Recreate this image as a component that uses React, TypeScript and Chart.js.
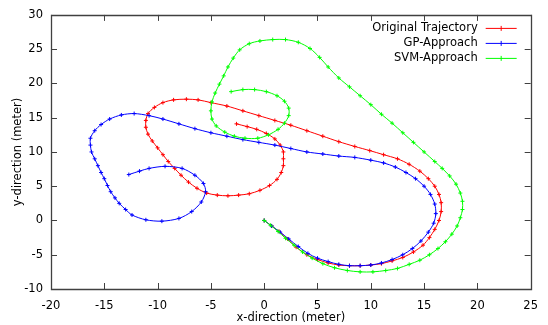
import React, { useEffect, useRef } from "react";
import { Chart, registerables } from "chart.js";

Chart.register(...registerables);

const seriesNames = ["Original Trajectory", "GP-Approach", "SVM-Approach"];
const seriesColors = ["#ff0000", "#0000ff", "#00ff00"];

const xTicks = [-20, -15, -10, -5, 0, 5, 10, 15, 20, 25];
const yTicks = [-10, -5, 0, 5, 10, 15, 20, 25, 30];

const origX = [0, 0.7, 1.4, 2.2, 3.0, 4.0, 5.0, 6.0, 7.0, 8.0, 9.0, 10.0, 11.0, 12.0, 13.0, 14.0, 14.9, 15.5, 16.0, 16.4, 16.6, 16.6, 16.4, 16.0, 15.4, 14.6, 13.6, 12.5, 11.2, 9.9, 8.5, 7.0, 5.5, 4.0, 2.5, 1.0, -0.5, -2.0, -3.5, -5.0, -6.2, -7.3, -8.5, -9.5, -10.3, -10.9, -11.1, -11.1, -10.9, -10.5, -10.0, -9.5, -9.0, -8.4, -7.8, -7.1, -6.3, -5.4, -4.4, -3.4, -2.4, -1.4, -0.4, 0.5, 1.2, 1.6, 1.8, 1.8, 1.8, 1.5, 1.0, 0.2, -0.7, -1.6, -2.6];
const origY = [0, -0.8, -1.6, -2.7, -3.9, -5.0, -5.7, -6.2, -6.5, -6.6, -6.6, -6.5, -6.3, -5.9, -5.4, -4.6, -3.6, -2.5, -1.3, 0, 1.3, 2.6, 3.8, 5.0, 6.1, 7.2, 8.2, 9.0, 9.6, 10.2, 10.8, 11.5, 12.3, 13.1, 13.9, 14.6, 15.3, 16.0, 16.7, 17.2, 17.6, 17.7, 17.6, 17.2, 16.5, 15.6, 14.6, 13.6, 12.6, 11.6, 10.6, 9.6, 8.6, 7.6, 6.6, 5.6, 4.7, 4.0, 3.7, 3.6, 3.7, 3.9, 4.4, 5.1, 6.0, 7.0, 8.0, 9.0, 10.0, 11.0, 11.9, 12.7, 13.3, 13.7, 14.1];

const gpX = [0, 0.7, 1.5, 2.3, 3.2, 4.1, 5.0, 6.0, 7.0, 8.0, 9.0, 10.0, 11.0, 12.0, 13.0, 13.9, 14.7, 15.4, 15.9, 16.1, 16.0, 15.6, 15.0, 14.2, 13.3, 12.3, 11.2, 10.0, 8.5, 7.0, 5.5, 4.0, 2.5, 1.0, -0.5, -2.0, -3.5, -5.0, -6.5, -8.0, -9.5, -10.8, -12.2, -13.4, -14.5, -15.3, -15.9, -16.3, -16.3, -16.2, -15.9, -15.6, -15.3, -15.0, -14.7, -14.4, -14.0, -13.6, -13.0, -12.4, -11.1, -9.6, -8.0, -6.8, -5.9, -5.5, -5.7, -6.5, -7.7, -9.3, -10.8, -11.7, -12.7];
const gpY = [0, -0.8, -1.7, -2.7, -3.8, -4.8, -5.5, -6.0, -6.4, -6.6, -6.6, -6.5, -6.2, -5.7, -5.0, -4.1, -3.0, -1.7, -0.4, 1.0, 2.4, 3.8, 5.0, 6.1, 7.0, 7.8, 8.4, 8.8, 9.2, 9.4, 9.7, 10.0, 10.5, 11.0, 11.4, 11.8, 12.3, 12.8, 13.4, 14.1, 14.8, 15.3, 15.6, 15.4, 14.8, 14.0, 13.1, 12.0, 11.0, 10.0, 9.0, 8.0, 7.0, 6.1, 5.1, 4.2, 3.3, 2.5, 1.6, 0.8, 0.1, -0.1, 0.3, 1.3, 2.7, 4.2, 5.4, 6.6, 7.6, 7.9, 7.6, 7.2, 6.7];

const svmX = [0, 0.6, 1.3, 2.0, 2.8, 3.6, 4.5, 5.5, 6.6, 7.8, 9.0, 10.2, 11.4, 12.5, 13.6, 14.6, 15.5, 16.3, 17.0, 17.6, 18.1, 18.4, 18.6, 18.6, 18.4, 18.0, 17.4, 16.7, 16.0, 15.0, 14.0, 13.0, 12.0, 11.0, 10.0, 9.0, 8.0, 7.0, 6.0, 5.2, 4.3, 3.2, 2.0, 0.8, -0.4, -1.4, -2.3, -2.9, -3.4, -3.8, -4.2, -4.6, -4.9, -5.0, -4.9, -4.5, -3.7, -2.8, -1.8, -0.6, 0.4, 1.3, 1.9, 2.3, 2.3, 1.9, 1.2, 0.2, -0.9, -2.0, -3.1];
const svmY = [0, -0.7, -1.6, -2.6, -3.6, -4.6, -5.5, -6.3, -6.9, -7.3, -7.5, -7.5, -7.3, -7.0, -6.4, -5.8, -5.0, -4.1, -3.1, -2.0, -0.8, 0.4, 1.6, 2.8, 4.0, 5.3, 6.5, 7.6, 8.6, 10.0, 11.4, 12.8, 14.2, 15.5, 16.9, 18.2, 19.5, 20.8, 22.4, 23.8, 25.1, 26.0, 26.4, 26.4, 26.2, 25.8, 24.9, 23.7, 22.4, 21.1, 19.9, 18.6, 17.3, 16.0, 14.8, 13.8, 12.9, 12.3, 12.0, 12.0, 12.5, 13.3, 14.2, 15.3, 16.4, 17.4, 18.2, 18.8, 19.1, 19.1, 18.8];

const FONT = "DejaVu Sans";

function toPoints(xs: number[], ys: number[]) {
  return xs.map((x, i) => ({ x, y: ys[i] }));
}

const framePlugin = {
  id: "gnuplotFrame",
  afterDraw(chart: any) {
    const { ctx, chartArea, scales } = chart;
    const { left, right, top, bottom } = chartArea;
    ctx.save();
    ctx.strokeStyle = "#404040";
    ctx.lineWidth = 1.3;
    ctx.beginPath();
    ctx.rect(Math.round(left) + 0.5, Math.round(top) + 0.5, Math.round(right - left), Math.round(bottom - top));
    ctx.stroke();
    const tl = 6;
    ctx.lineWidth = 1;
    ctx.beginPath();
    xTicks.forEach((v) => {
      const px = Math.round(scales.x.getPixelForValue(v)) + 0.5;
      ctx.moveTo(px, bottom);
      ctx.lineTo(px, bottom - tl);
      ctx.moveTo(px, top);
      ctx.lineTo(px, top + tl);
    });
    yTicks.forEach((v) => {
      const py = Math.round(scales.y.getPixelForValue(v)) + 0.5;
      ctx.moveTo(left, py);
      ctx.lineTo(left + tl, py);
      ctx.moveTo(right, py);
      ctx.lineTo(right - tl, py);
    });
    ctx.stroke();

    // axis titles
    ctx.fillStyle = "#000";
    ctx.font = `11.5px "${FONT}"`;
    ctx.textAlign = "center";
    ctx.textBaseline = "middle";
    ctx.fillText("x-direction (meter)", (left + right) / 2, 318);
    ctx.save();
    ctx.translate(18, (top + bottom) / 2);
    ctx.rotate(-Math.PI / 2);
    ctx.fillText("y-direction (meter)", 0, 0);
    ctx.restore();

    // legend
    seriesNames.forEach((name, i) => {
      const y = top + 13 + i * 15;
      ctx.fillStyle = "#000";
      ctx.textAlign = "right";
      ctx.fillText(name, right - 53, y);
      ctx.strokeStyle = seriesColors[i];
      ctx.lineWidth = 1;
      ctx.beginPath();
      ctx.moveTo(right - 45, y + 0.5);
      ctx.lineTo(right - 14, y + 0.5);
      const cx = right - 29.5;
      ctx.moveTo(cx, y - 2);
      ctx.lineTo(cx, y + 3);
      ctx.stroke();
    });
    ctx.restore();
  },
};

export default function App() {
  const ref = useRef<HTMLCanvasElement>(null);
  useEffect(() => {
    if (!ref.current) return;
    const data = [toPoints(origX, origY), toPoints(gpX, gpY), toPoints(svmX, svmY)];
    const chart = new Chart(ref.current, {
      type: "scatter",
      data: {
        datasets: data.map((d, i) => ({
          label: seriesNames[i],
          data: d,
          showLine: true,
          borderColor: seriesColors[i],
          backgroundColor: seriesColors[i],
          borderWidth: 1,
          pointStyle: "cross",
          pointRadius: 2,
          pointBorderWidth: 1,
          tension: 0.3,
          order: 3 - i,
        })),
      },
      options: {
        animation: false,
        responsive: true,
        maintainAspectRatio: false,
        layout: { padding: { top: 14, right: 12, left: 0, bottom: 0 } },
        plugins: { legend: { display: false }, tooltip: { enabled: false } },
        scales: {
          x: {
            type: "linear",
            min: -20,
            max: 25,
            grid: { display: false, drawTicks: false },
            border: { display: false },
            afterFit: (s: any) => { s.height = 36; },
            afterBuildTicks: (s: any) => { s.ticks = xTicks.map((v) => ({ value: v })); },
            ticks: { font: { family: FONT, size: 11.5 }, color: "#000", padding: 10, maxRotation: 0 },
          },
          y: {
            type: "linear",
            min: -10,
            max: 30,
            grid: { display: false, drawTicks: false },
            border: { display: false },
            afterFit: (s: any) => { s.width = 51; },
            afterBuildTicks: (s: any) => { s.ticks = yTicks.map((v) => ({ value: v })); },
            ticks: { font: { family: FONT, size: 11.5 }, color: "#000", padding: 8 },
          },
        },
      },
      plugins: [framePlugin],
    });
    return () => chart.destroy();
  }, []);
  return (
    <div style={{ position: "fixed", left: 0, top: 0, width: 548, height: 325, background: "#fff" }}>
      <canvas ref={ref} />
    </div>
  );
}
